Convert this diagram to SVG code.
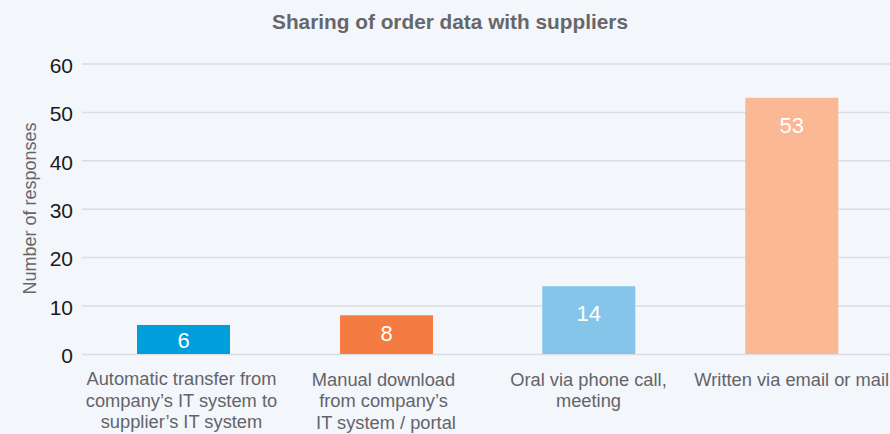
<svg xmlns="http://www.w3.org/2000/svg" width="890" height="434" viewBox="0 0 890 434">
<style>
text{font-family:"Liberation Sans",Arial,sans-serif}
.grid{stroke:#DADDE2;stroke-width:1.5}
.tick{font-size:21px;fill:#1a1a1a;text-anchor:end}
.val{font-size:22px;fill:#ffffff;text-anchor:middle}
.cat{font-size:18.3px;fill:#636468;text-anchor:middle}
.title{font-size:20.8px;font-weight:bold;fill:#666769;text-anchor:middle}
.ytitle{font-size:18px;fill:#666769;text-anchor:middle}
</style>
<rect x="0" y="0" width="890" height="434" fill="#F3F6FB"/>
<text class="title" x="450" y="29">Sharing of order data with suppliers</text>
<g id="gridlines">
<line class="grid" x1="82" y1="64" x2="890" y2="64"/>
<line class="grid" x1="82" y1="112.4" x2="890" y2="112.4"/>
<line class="grid" x1="82" y1="160.8" x2="890" y2="160.8"/>
<line class="grid" x1="82" y1="209.2" x2="890" y2="209.2"/>
<line class="grid" x1="82" y1="257.6" x2="890" y2="257.6"/>
<line class="grid" x1="82" y1="306" x2="890" y2="306"/>
<line class="grid" x1="82" y1="354.4" x2="890" y2="354.4"/>
</g>
<g id="yaxis">
<text class="tick" x="73" y="72.5">60</text>
<text class="tick" x="73" y="121">50</text>
<text class="tick" x="73" y="169.5">40</text>
<text class="tick" x="73" y="218">30</text>
<text class="tick" x="73" y="266">20</text>
<text class="tick" x="73" y="314.5">10</text>
<text class="tick" x="73" y="363">0</text>
<text class="ytitle" transform="translate(36,208.5) rotate(-90)">Number of responses</text>
</g>
<g id="bar1">
<rect x="137" y="325" width="93" height="29" fill="#009FDB"/>
<text class="val" x="183.5" y="347.5">6</text>
<text class="cat" x="181.5" y="385">Automatic transfer from</text>
<text class="cat" x="181.5" y="406.7">company’s IT system to</text>
<text class="cat" x="181.5" y="428.4">supplier’s IT system</text>
</g>
<g id="bar2">
<rect x="340" y="315.3" width="93" height="38.7" fill="#F47B42"/>
<text class="val" x="386.5" y="341.3">8</text>
<text class="cat" x="383.5" y="385.5">Manual download</text>
<text class="cat" x="383.5" y="407.2">from company’s</text>
<text class="cat" x="386" y="428.9">IT system / portal</text>
</g>
<g id="bar3">
<rect x="542.3" y="286.2" width="93" height="67.8" fill="#85C5EA"/>
<text class="val" x="588.8" y="321.2">14</text>
<text class="cat" x="588.5" y="385.5">Oral via phone call,</text>
<text class="cat" x="588.5" y="407.2">meeting</text>
</g>
<g id="bar4">
<rect x="745.3" y="97.8" width="93" height="256.2" fill="#FAB894"/>
<text class="val" x="791.8" y="133.3">53</text>
<text class="cat" x="791.7" y="385.5">Written via email or mail</text>
</g>
</svg>
